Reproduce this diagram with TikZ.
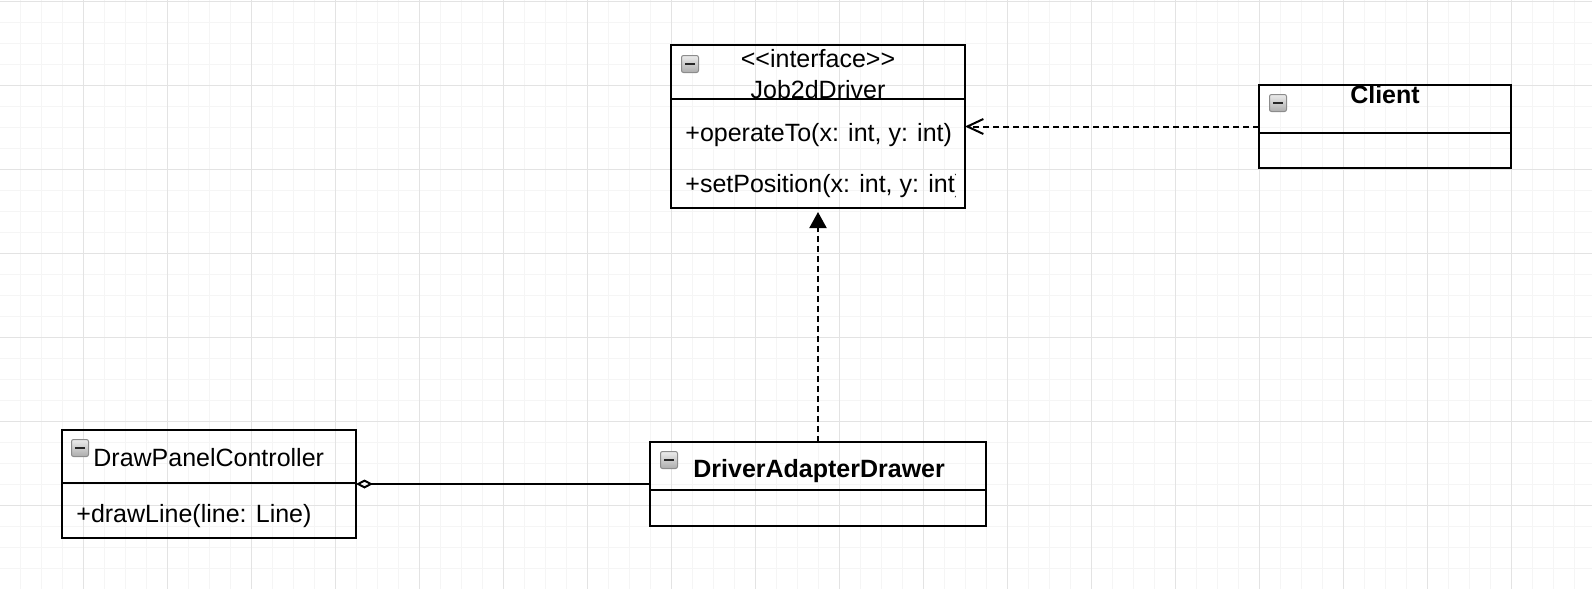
\documentclass[tikz,border=0pt]{standalone}
\usepackage{fontspec}
\setmainfont{Liberation Sans}
\usetikzlibrary{arrows.meta, positioning}

\tikzset{
  classbox/.style={draw, line width=1pt, anchor=north west, inner sep=0pt, outer sep=0pt},
  classline/.style={line width=1pt},
  classtext/.style={inner sep=0pt, font=\fontsize{12.5pt}{15pt}\selectfont},
  classbold/.style={inner sep=0pt, font=\fontsize{12.5pt}{15pt}\selectfont\bfseries},
  fold/.style={draw=gray!90, line width=0.5pt, rounded corners=1pt, top color=gray!15,
    bottom color=gray!65, minimum size=8.5pt, inner sep=0pt, text=black!85},
  gridminor/.style={gray!8, line width=0.5pt},
  gridmajor/.style={gray!22, line width=0.5pt},
  dep/.style={line width=1pt, dash pattern=on 3pt off 2pt},
  assoc/.style={line width=1pt},
}

\begin{document}
\begin{tikzpicture}[x=0.5pt, y=0.5pt]
    \useasboundingbox (0,0) rectangle (1592,-589);

    % background grid
    \foreach \i in {0,...,76}
        \draw[gridminor] ({-0.7+21*\i},0) -- ({-0.7+21*\i},-589);
    \foreach \j in {0,...,28}
        \draw[gridminor] (0,{-1.3-21*\j}) -- (1592,{-1.3-21*\j});
    \foreach \i in {0,...,19}
        \draw[gridmajor] ({-0.7+84*\i},0) -- ({-0.7+84*\i},-589);
    \foreach \j in {0,...,7}
        \draw[gridmajor] (0,{-1.3-84*\j}) -- (1592,{-1.3-84*\j});

    % interface
    \node (drv) [classbox, minimum width=147pt, minimum height=81.5pt] at (671,-45) {};
    \draw[classline] ([yshift=-27pt]drv.north west) -- ([yshift=-27pt]drv.north east);
    \node (drvfold) [fold] at (690,-64) {\rule{5pt}{1.2pt}};
    \node (drvstereo) [classtext, anchor=base] at (818,-68) {<{}<interface>{}>};
    \node (drvname) [classtext, anchor=base] at (818,-98) {Job2dDriver};
    \node (drvop1) [classtext, anchor=base west] at (685,-141) {+operateTo(x: int, y: int)};
    \begin{scope}
        \clip (drv.north west) rectangle (955,-208);
        \node (drvop2) [classtext, anchor=base west] at (685,-192) {+setPosition(x: int, y: int)};
    \end{scope}

    % client
    \node (client) [classbox, minimum width=126pt, minimum height=41.5pt] at (1259,-85) {};
    \draw[classline] ([yshift=-24pt]client.north west) -- ([yshift=-24pt]client.north east);
    \node (clientfold) [fold] at (1278,-103) {\rule{5pt}{1.2pt}};
    \node (clientname) [classbold, anchor=base] at (1385,-103) {Client};

    % controller
    \node (panel) [classbox, minimum width=147pt, minimum height=54pt] at (62,-430) {};
    \draw[classline] ([yshift=-26.5pt]panel.north west) -- ([yshift=-26.5pt]panel.north east);
    \node (panelfold) [fold] at (80,-448) {\rule{5pt}{1.2pt}};
    \node (panelname) [classtext, anchor=base west] at (93,-466) {DrawPanelController};
    \node (panelop) [classtext, anchor=base west] at (76,-522) {+drawLine(line: Line)};

    % adapter
    \node (adapter) [classbox, minimum width=168pt, minimum height=42pt] at (650,-442) {};
    \draw[classline] ([yshift=-24pt]adapter.north west) -- ([yshift=-24pt]adapter.north east);
    \node (adapterfold) [fold] at (669,-460) {\rule{5pt}{1.2pt}};
    \node (adaptername) [classbold, anchor=base west] at (693,-477) {DriverAdapterDrawer};

    \path [dep]
        (client) edge [-{Straight Barb[length=8pt,width=7.5pt]}] (drv)
        (adapter) edge [-{Triangle[length=8pt,width=8.5pt]}, shorten >=2pt] (drv)
        ;
    \path [assoc]
        (adapter) edge [-{Diamond[open,length=8.5pt,width=4.5pt]}] (panel)
        ;
\end{tikzpicture}
\end{document}
